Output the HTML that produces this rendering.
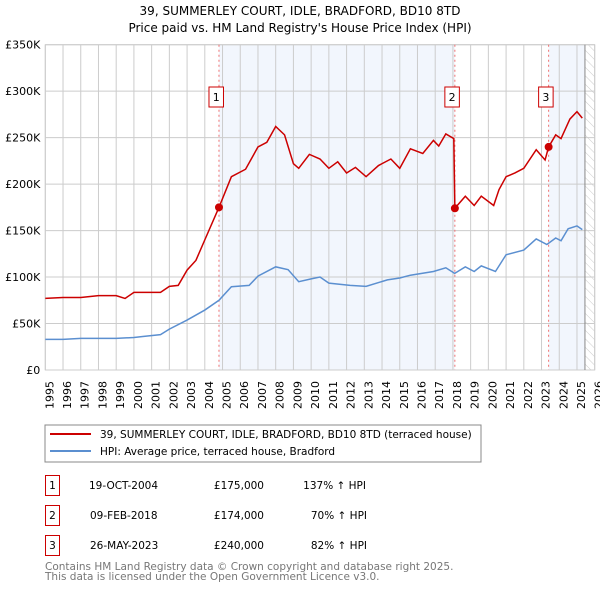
<!DOCTYPE html>
<html><head><meta charset="utf-8"><style>
body{margin:0;background:#fff;font-family:"DejaVu Sans","Liberation Sans",sans-serif;}
svg text{font-family:"DejaVu Sans","Liberation Sans",sans-serif;}
</style></head><body>
<svg id="c" width="600" height="590" xmlns="http://www.w3.org/2000/svg">
<defs><pattern id="hatch" width="6" height="6" patternUnits="userSpaceOnUse" patternTransform="rotate(-45)"><line x1="0" y1="0" x2="0" y2="6" stroke="#ccc" stroke-width="1"/></pattern></defs>
<text x="300" y="15" text-anchor="middle" font-size="12">39, SUMMERLEY COURT, IDLE, BRADFORD, BD10 8TD</text>
<text x="300" y="32" text-anchor="middle" font-size="12">Price paid vs. HM Land Registry's House Price Index (HPI)</text>
<g id="plot"></g>
<rect x="45" y="425" width="436" height="37" fill="#fff" stroke="#888"/>
<line x1="50" y1="434" x2="91" y2="434" stroke="#cc0000" stroke-width="2"/>
<text x="100" y="438" font-size="10.5">39, SUMMERLEY COURT, IDLE, BRADFORD, BD10 8TD (terraced house)</text>
<line x1="50" y1="451" x2="91" y2="451" stroke="#5b8fd0" stroke-width="2"/>
<text x="100" y="455" font-size="10.5">HPI: Average price, terraced house, Bradford</text>
<g font-size="10.5">
<rect x="45.5" y="475.5" width="14" height="20" fill="none" stroke="#cc0000"/><text x="52.5" y="489" text-anchor="middle">1</text>
<text x="89" y="489">19-OCT-2004</text><text x="264" y="489" text-anchor="end">£175,000</text><text x="366" y="489" text-anchor="end">137% ↑ HPI</text>
<rect x="45.5" y="505.5" width="14" height="20" fill="none" stroke="#cc0000"/><text x="52.5" y="519" text-anchor="middle">2</text>
<text x="90" y="519">09-FEB-2018</text><text x="264" y="519" text-anchor="end">£174,000</text><text x="367" y="519" text-anchor="end">70% ↑ HPI</text>
<rect x="45.5" y="535.5" width="14" height="20" fill="none" stroke="#cc0000"/><text x="52.5" y="549" text-anchor="middle">3</text>
<text x="90" y="549">26-MAY-2023</text><text x="264" y="549" text-anchor="end">£240,000</text><text x="367" y="549" text-anchor="end">82% ↑ HPI</text>
</g>
<text x="45" y="570" font-size="10.5" fill="#777">Contains HM Land Registry data © Crown copyright and database right 2025.</text>
<text x="45" y="580" font-size="10.5" fill="#777">This data is licensed under the Open Government Licence v3.0.</text>
</svg>
<script>
const yTicks=[0,50000,100000,150000,200000,250000,300000,350000];
const yLabels=["£0","£50K","£100K","£150K","£200K","£250K","£300K","£350K"];
const years=[1995,1996,1997,1998,1999,2000,2001,2002,2003,2004,2005,2006,2007,2008,2009,2010,2011,2012,2013,2014,2015,2016,2017,2018,2019,2020,2021,2022,2023,2024,2025,2026];
const saleDates=[2004.8,2018.11,2023.4];
const salePrices=[175000,174000,240000];
const saleLabels=["1","2","3"];
const hpiX=[1995,1996,1997,1998,1999,2000,2000.5,2001.5,2002,2003,2004,2004.8,2005.5,2006.5,2007,2008,2008.7,2009.3,2010,2010.5,2011,2012.2,2013.1,2014.3,2015,2015.6,2016.9,2017.6,2018.1,2018.7,2019.2,2019.6,2020.4,2021,2022,2022.7,2023.3,2023.8,2024.1,2024.5,2025,2025.3];
const hpiY=[33000,33000,34000,34000,34000,35000,36000,38000,44000,53700,64500,75000,89600,91000,101000,111000,108000,95000,98000,100000,93500,91000,90000,97000,99000,102000,106000,110000,104000,111000,106000,112000,106000,124000,129000,141000,135000,142000,139000,152000,155000,151000];
const priceX=[1995,1996,1997,1998,1999,1999.5,2000,2001.5,2002,2002.5,2003,2003.5,2004,2004.8,2005.5,2006.3,2007,2007.5,2008,2008.5,2009,2009.3,2009.9,2010.5,2011,2011.5,2012,2012.5,2013.1,2013.8,2014.5,2015,2015.6,2016.3,2016.9,2017.2,2017.6,2018.05,2018.11,2018.7,2019.2,2019.6,2020.3,2020.6,2021,2021.5,2022,2022.7,2023.2,2023.4,2023.8,2024.1,2024.6,2025,2025.3];
const priceY=[77000,78000,78000,80000,80000,77000,83500,83500,90000,91000,107500,118000,140000,175000,208000,216000,240000,245000,262000,253000,222000,217000,232000,227000,217000,224000,212000,218000,208000,220000,227000,217000,238000,233000,247000,241000,254000,249000,174000,187000,177000,187000,177000,194000,208000,212000,217000,237000,226000,240000,253000,249000,270000,278000,271000];
const X0=45.3,X1=594.7,Y0=370,Y1=44.7;
const sx=y=>X0+(y-1995)/(2026-1995)*(X1-X0);
const sy=v=>Y0-v/350000*(Y0-Y1);
const NS="http://www.w3.org/2000/svg";
const g=document.getElementById('plot');
function mk(t,a){const e=document.createElementNS(NS,t);for(const k in a)e.setAttribute(k,a[k]);g.appendChild(e);return e;}
let e;
e=mk('rect',{x:sx(saleDates[0]),y:Y1,width:sx(saleDates[1])-sx(saleDates[0]),height:Y0-Y1,fill:'#f2f6fd'});


e=mk('rect',{x:sx(saleDates[2]),y:Y1,width:sx(2025.45)-sx(saleDates[2]),height:Y0-Y1,fill:'#f2f6fd'});


e=mk('rect',{x:sx(2025.45),y:Y1,width:X1-sx(2025.45),height:Y0-Y1,fill:'url(#hatch)'});


years.forEach(y=>{
 e=mk('line',{x1:sx(y),x2:sx(y),y1:Y1,y2:Y0,stroke:'#ccc','stroke-width':1});
 
 
 const tx=sx(y)+8, ty=Y0+11;
 e=mk('text',{x:tx,y:ty,'text-anchor':'end','font-size':'11',transform:'rotate(-90 '+tx+' '+ty+')'});e.textContent=y;
 
 
});
yTicks.forEach((v,i)=>{
 e=mk('line',{x1:X0,x2:X1,y1:sy(v),y2:sy(v),stroke:'#ccc','stroke-width':1});
 
 
 e=mk('text',{x:X0-5,y:sy(v)+4,'text-anchor':'end','font-size':'11'});e.textContent=yLabels[i];
 
 
});
e=mk('rect',{x:X0,y:Y1,width:X1-X0,height:Y0-Y1,fill:'none',stroke:'#ccc'});


e=mk('line',{x1:sx(2025.45),x2:sx(2025.45),y1:Y1,y2:Y0,stroke:'#888'});


saleDates.forEach((d,i)=>{
 e=mk('line',{x1:sx(d),x2:sx(d),y1:Y1,y2:Y0,stroke:'#f07070','stroke-dasharray':'2,3'});
 
 
});
e=mk('polyline',{points:hpiX.map((x,i)=>sx(x)+','+sy(hpiY[i])).join(' '),fill:'none',stroke:'#5b8fd0','stroke-width':1.5});


e=mk('polyline',{points:priceX.map((x,i)=>sx(x)+','+sy(priceY[i])).join(' '),fill:'none',stroke:'#cc0000','stroke-width':1.5});


saleDates.forEach((d,i)=>{
 e=mk('circle',{cx:sx(d),cy:sy(salePrices[i]),r:4,fill:'#cc0000'});
 
 
 e=mk('rect',{x:sx(d)-10,y:87,width:14.5,height:20,fill:'#fff',stroke:'#cc0000'});
 
 
 e=mk('text',{x:sx(d)-2.75,y:101,'text-anchor':'middle','font-size':'11'});e.textContent=saleLabels[i];
 
 
});
</script>
</body></html>
